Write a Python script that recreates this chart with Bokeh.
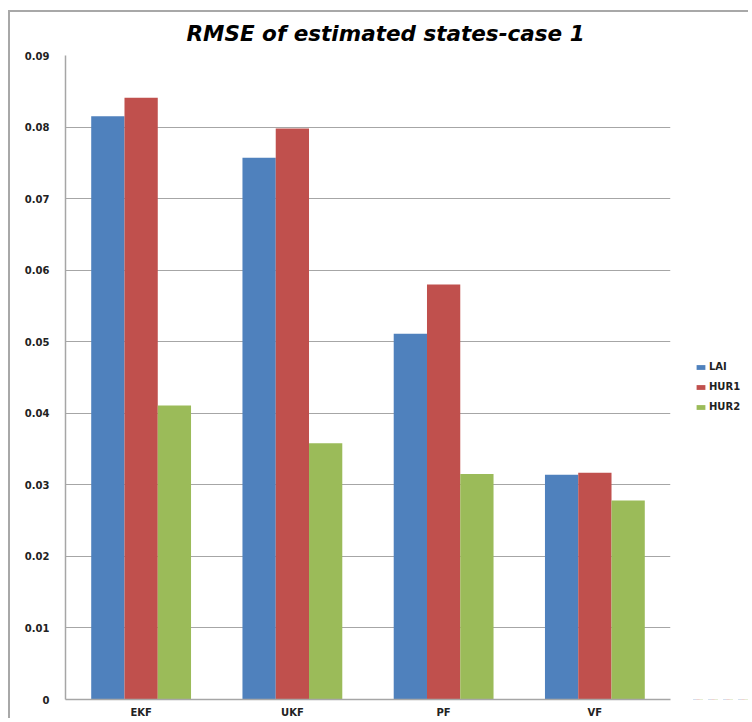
from bokeh.plotting import figure
from bokeh.models import (ColumnDataSource, FactorRange, Range1d, FixedTicker,
                          Legend, LegendItem)
from bokeh.layouts import row
from bokeh.transform import dodge
from bokeh.embed import file_html
from bokeh.resources import INLINE

# ---- data ----
methods = ["EKF", "UKF", "PF", "VF"]
lai = [0.0815, 0.0757, 0.0511, 0.0314]
hur1 = [0.0841, 0.0798, 0.0580, 0.0317]
hur2 = [0.0411, 0.0358, 0.0315, 0.0278]
series_names = ["LAI", "HUR1", "HUR2"]
colors = ["#4F81BD", "#C0504D", "#9BBB59"]
y_ticks = [0.0, 0.01, 0.02, 0.03, 0.04, 0.05, 0.06, 0.07, 0.08, 0.09]
y_tick_labels = ["0", "0.01", "0.02", "0.03", "0.04", "0.05", "0.06", "0.07", "0.08", "0.09"]
title_text = "RMSE of estimated states-case 1"

source = ColumnDataSource(dict(method=methods, LAI=lai, HUR1=hur1, HUR2=hur2))
x_range = FactorRange(*methods)

p = figure(x_range=x_range, y_range=Range1d(0, 0.09),
           width=680, height=708, output_backend="svg", toolbar_location=None,
           min_border_left=55, min_border_right=20, min_border_bottom=20,
           min_border_top=43)

p.title.text = title_text
p.title.align = "left"
p.title.vertical_align = "top"
p.title.offset = 121
p.title.standoff = 15
p.title.text_font = "DejaVu Sans"
p.title.text_font_style = "bold italic"
p.title.text_font_size = "21.5px"
p.title.text_color = "#000000"

bar_w = 0.22
offsets = [-bar_w, 0.0, bar_w]
for name, col, off in zip(series_names, colors, offsets):
    p.vbar(x=dodge("method", off, range=x_range), top=name, width=bar_w,
           source=source, fill_color=col, line_color=None)

# axes
p.yaxis.ticker = FixedTicker(ticks=y_ticks)
p.yaxis.major_label_overrides = {t: l for t, l in zip(y_ticks, y_tick_labels)}
p.yaxis.major_tick_out = 0
p.yaxis.major_tick_in = 0
p.yaxis.minor_tick_out = 0
p.yaxis.minor_tick_in = 0
p.yaxis.major_label_standoff = 16
p.xaxis.major_tick_out = 0
p.xaxis.major_tick_in = 0
p.xaxis.major_label_standoff = 7
for ax in (p.xaxis, p.yaxis):
    ax.axis_line_color = "#a6a6a6"
    ax.axis_line_width = 1.5
    ax.major_label_text_font = "DejaVu Sans"
    ax.major_label_text_font_style = "bold"
    ax.major_label_text_font_size = "10px"
    ax.major_label_text_color = "#222222"

p.xgrid.grid_line_color = None
p.ygrid.grid_line_color = "#a6a6a6"
p.ygrid.grid_line_width = 1.2
p.outline_line_color = None
p.background_fill_color = "white"
p.border_fill_color = "white"

# ---- legend panel (separate narrow figure; bars fall outside its y range) ----
pl = figure(x_range=x_range, y_range=Range1d(1, 2), width=60, height=708,
            output_backend="svg", toolbar_location=None, min_border=0)
pl.axis.visible = False
pl.grid.grid_line_color = None
pl.outline_line_color = None
pl.border_fill_color = "white"
pl.background_fill_color = "white"
leg_renderers = []
for name, col, off in zip(series_names, colors, offsets):
    r = pl.vbar(x=dodge("method", off, range=x_range), top=name, width=bar_w,
                source=source, fill_color=col, line_color=None)
    leg_renderers.append(r)

legend = Legend(items=[LegendItem(label=n, renderers=[r]) for n, r in zip(series_names, leg_renderers)],
                location=(5, 287), orientation="vertical",
                glyph_width=11, glyph_height=6, spacing=9, padding=0, margin=0,
                label_text_font="DejaVu Sans", label_text_font_style="bold",
                label_text_font_size="10px", label_text_color="#222222",
                label_standoff=3, label_height=10,
                border_line_color=None, background_fill_alpha=0)
pl.add_layout(legend, "center")

layout = row(p, pl, margin=(12, 0, 0, 10),
             styles={"box-shadow": "-2px -2px 0 0 #a8a8a8"})

open("out.html", "w").write(file_html(layout, INLINE))
